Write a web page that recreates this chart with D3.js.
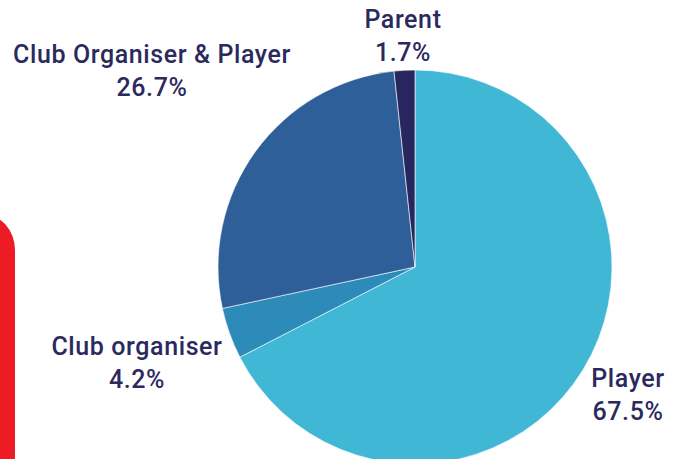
<!DOCTYPE html>
<html>
<head>
<meta charset="utf-8">
<script src="https://cdn.jsdelivr.net/npm/d3@7/dist/d3.min.js"></script>
<style>
body { margin: 0; background: #fff; }
</style>
</head>
<body>
<div id="chart"></div>
<script>
// data
var categories = ["Player", "Club organiser", "Club Organiser & Player", "Parent"];
var values = [67.5, 4.2, 26.7, 1.7];
var colors = ["#41b7d6", "#2d8bb9", "#2e5f98", "#28265f"];

var width = 680, height = 459;
var cx = 415, cy = 267, radius = 197;

var svg = d3.select("#chart")
  .append("svg")
  .attr("width", width)
  .attr("height", height);

// red decoration on the left edge
svg.append("rect")
  .attr("x", -50)
  .attr("y", 214)
  .attr("width", 65)
  .attr("height", 300)
  .attr("rx", 36)
  .attr("fill", "#ed1c24");

var data = categories.map(function(c, i) { return {name: c, value: values[i]}; });

var pie = d3.pie()
  .sort(null)
  .value(function(d) { return d.value; });

var arc = d3.arc()
  .innerRadius(0)
  .outerRadius(radius);

var g = svg.append("g")
  .attr("transform", "translate(" + cx + "," + cy + ")");

g.selectAll("path")
  .data(pie(data))
  .enter()
  .append("path")
  .attr("d", arc)
  .attr("fill", function(d, i) { return colors[i]; })
  .attr("stroke", "#fff")
  .attr("stroke-width", 0.6);

// label positions (centre of text block, first baseline)
var labelPos = [
  {x: 628, y: 387},
  {x: 137, y: 355},
  {x: 152, y: 63},
  {x: 403, y: 28}
];

var labels = svg.append("g")
  .style("font-family", "Roboto, 'Noto Sans', sans-serif")
  .style("font-size", "25px")
  .style("font-weight", 500)
  .style("letter-spacing", "0.6px")
  .attr("fill", "#2b2a5e")
  .attr("text-anchor", "middle");

data.forEach(function(d, i) {
  var t = labels.append("text")
    .attr("x", labelPos[i].x)
    .attr("y", labelPos[i].y);
  t.append("tspan")
    .attr("x", labelPos[i].x)
    .text(d.name);
  t.append("tspan")
    .attr("x", labelPos[i].x)
    .attr("dy", 33)
    .text(d3.format(".1f")(d.value) + "%");
});
</script>
</body>
</html>
